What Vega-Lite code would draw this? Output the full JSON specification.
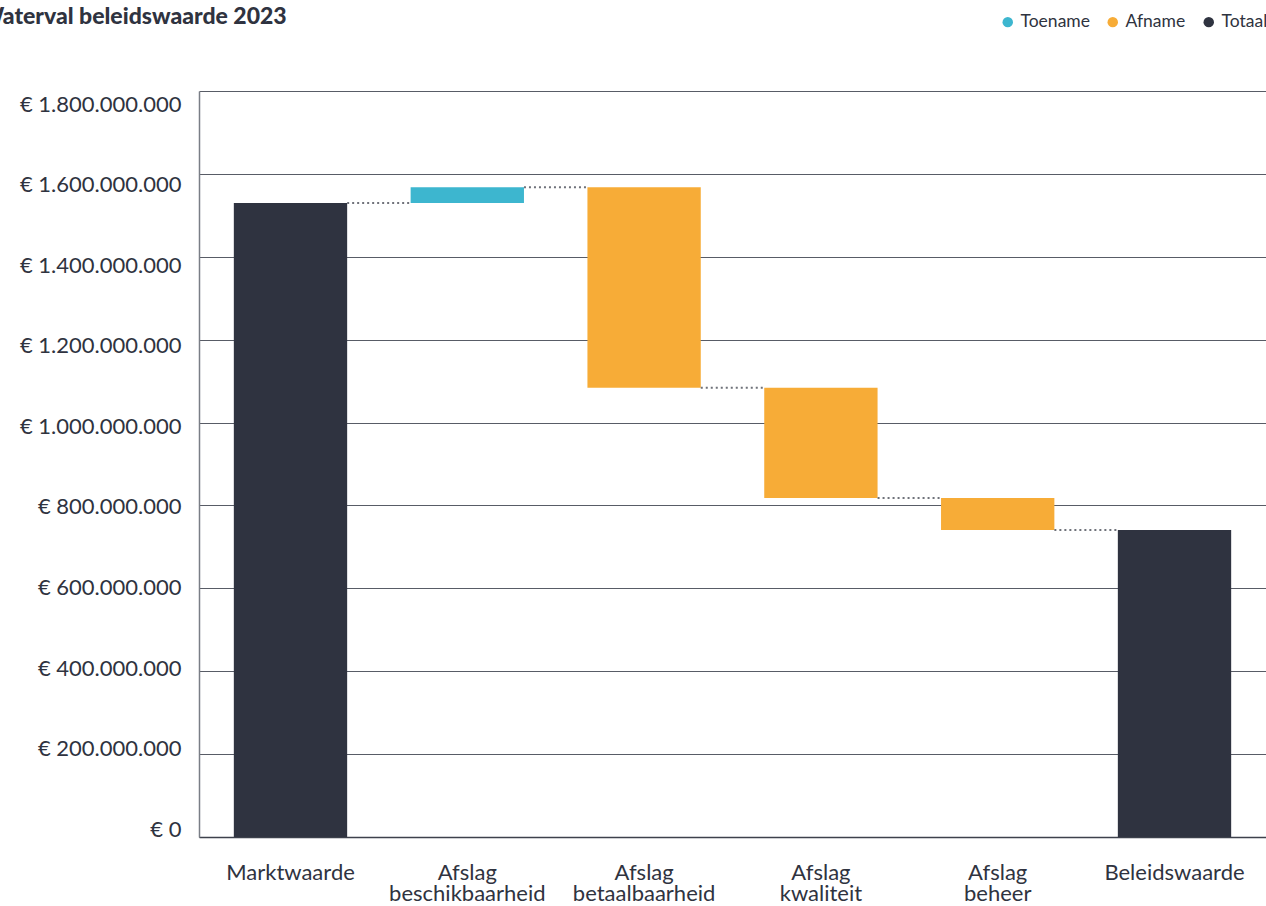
{
  "$schema": "https://vega.github.io/schema/vega-lite/v6.json",
  "width": 1067,
  "height": 746,
  "autosize": {"type": "none"},
  "padding": {"left": 199, "top": 91, "right": 0, "bottom": 69},
  "background": "#ffffff",
  "config": {"view": {"stroke": null}, "font": "Lato"},
  "title": {
    "text": "Waterval beleidswaarde 2023",
    "anchor": "start",
    "frame": "group",
    "dx": -219,
    "offset": -34,
    "baseline": "alphabetic",
    "fontSize": 23,
    "fontWeight": 900,
    "color": "#2f3340",
    "font": "Lato"
  },
  "datasets": {
    "bars": [
      {"categorie": "Marktwaarde", "van": 0, "tot": 1530000000, "soort": "Totaal"},
      {"categorie": "Afslag beschikbaarheid", "van": 1530000000, "tot": 1568000000, "soort": "Toename"},
      {"categorie": "Afslag betaalbaarheid", "van": 1568000000, "tot": 1084000000, "soort": "Afname"},
      {"categorie": "Afslag kwaliteit", "van": 1084000000, "tot": 818000000, "soort": "Afname"},
      {"categorie": "Afslag beheer", "van": 818000000, "tot": 741000000, "soort": "Afname"},
      {"categorie": "Beleidswaarde", "van": 0, "tot": 741000000, "soort": "Totaal"}
    ],
    "links": [
      {"van": "Marktwaarde", "naar": "Afslag beschikbaarheid", "niveau": 1530000000},
      {"van": "Afslag beschikbaarheid", "naar": "Afslag betaalbaarheid", "niveau": 1568000000},
      {"van": "Afslag betaalbaarheid", "naar": "Afslag kwaliteit", "niveau": 1084000000},
      {"van": "Afslag kwaliteit", "naar": "Afslag beheer", "niveau": 818000000},
      {"van": "Afslag beheer", "naar": "Beleidswaarde", "niveau": 741000000}
    ]
  },
  "layer": [
    {
      "data": {"name": "bars"},
      "mark": {"type": "bar"},
      "encoding": {
        "x": {
          "field": "categorie",
          "type": "nominal",
          "sort": null,
          "scale": {
            "domain": ["Marktwaarde", "Afslag beschikbaarheid", "Afslag betaalbaarheid", "Afslag kwaliteit", "Afslag beheer", "Beleidswaarde"],
            "paddingInner": 0.359,
            "paddingOuter": 0.197
          },
          "axis": {
            "title": null,
            "labelAngle": 0,
            "labelExpr": "split(datum.label, ' ')",
            "labelFontSize": 22,
            "labelLineHeight": 21,
            "labelBaseline": "top",
            "labelPadding": 25,
            "labelColor": "#2f3340",
            "labelFont": "Lato",
            "labelOverlap": false,
            "ticks": false,
            "domainColor": "#3d414c",
            "domainWidth": 1.5,
            "grid": false
          }
        },
        "y": {
          "field": "van",
          "type": "quantitative",
          "scale": {"domain": [0, 1800000000], "nice": false, "zero": true},
          "axis": {
            "title": null,
            "values": [0, 200000000, 400000000, 600000000, 800000000, 1000000000, 1200000000, 1400000000, 1600000000, 1800000000],
            "labelExpr": "'€ ' + replace(format(datum.value, ',.0f'), regexp(',', 'g'), '.')",
            "labelFontSize": 22,
            "labelColor": "#2f3340",
            "labelFont": "Lato",
            "labelPadding": 18,
            "labelOffset": {"expr": "-7.7 + datum.value / 1800000000 * 20.7"},
            "ticks": false,
            "grid": true,
            "gridColor": "#585c66",
            "gridWidth": 1,
            "domainColor": "#7a7e86",
            "domainWidth": 1.5
          }
        },
        "y2": {"field": "tot"},
        "color": {
          "field": "soort",
          "type": "nominal",
          "scale": {"domain": ["Toename", "Afname", "Totaal"], "range": ["#3db6cf", "#f7ac37", "#2f3340"]},
          "legend": {
            "title": null,
            "orient": "none",
            "legendX": 800,
            "legendY": -78,
            "direction": "horizontal",
            "symbolType": "circle",
            "symbolSize": 110,
            "symbolStrokeWidth": 0,
            "labelFontSize": 17.5,
            "labelFont": "Lato",
            "labelColor": "#2f3340",
            "labelOffset": 4,
            "columnPadding": 14
          }
        }
      }
    },
    {
      "data": {"name": "links"},
      "mark": {"type": "rule", "strokeDash": [2, 3], "strokeWidth": 2, "color": "#6f727a"},
      "encoding": {
        "x": {"field": "van", "type": "nominal", "bandPosition": 1},
        "x2": {"field": "naar", "bandPosition": 0},
        "y": {"field": "niveau", "type": "quantitative"}
      }
    }
  ]
}
